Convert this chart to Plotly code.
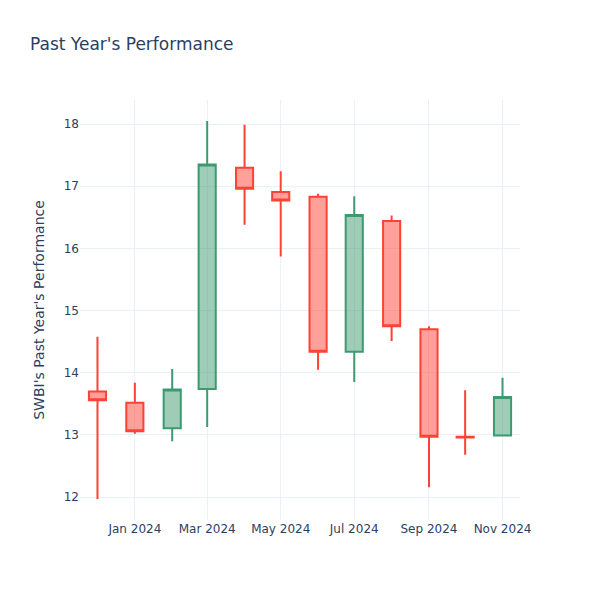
import plotly.graph_objects as go

dates = ["2023-12-01", "2024-01-01", "2024-02-01", "2024-03-01", "2024-04-01", "2024-05-01",
         "2024-06-01", "2024-07-01", "2024-08-01", "2024-09-01", "2024-10-01", "2024-11-01"]
opens = [13.70, 13.52, 13.11, 13.74, 17.30, 16.91, 16.83, 14.34, 16.44, 14.70, 12.97, 12.99]
highs = [14.58, 13.84, 14.06, 18.05, 17.99, 17.24, 16.88, 16.84, 16.53, 14.75, 13.72, 13.92]
lows = [11.97, 13.02, 12.90, 13.13, 16.38, 15.87, 14.05, 13.85, 14.51, 12.16, 12.68, 12.99]
closes = [13.56, 13.06, 13.73, 17.35, 16.96, 16.77, 14.34, 16.54, 14.75, 12.97, 12.96, 13.61]

fig = go.Figure(go.Candlestick(x=dates, open=opens, high=highs, low=lows, close=closes))
fig.update_layout(
    template="plotly_white",
    width=600, height=600,
    font=dict(family="DejaVu Sans"),
    title="Past Year's Performance",
    yaxis_title="SWBI's Past Year's Performance",
    xaxis_rangeslider_visible=False,
)
fig.write_html("out.html", config={"displayModeBar": False},
               post_script="document.body.style.margin='0';")
